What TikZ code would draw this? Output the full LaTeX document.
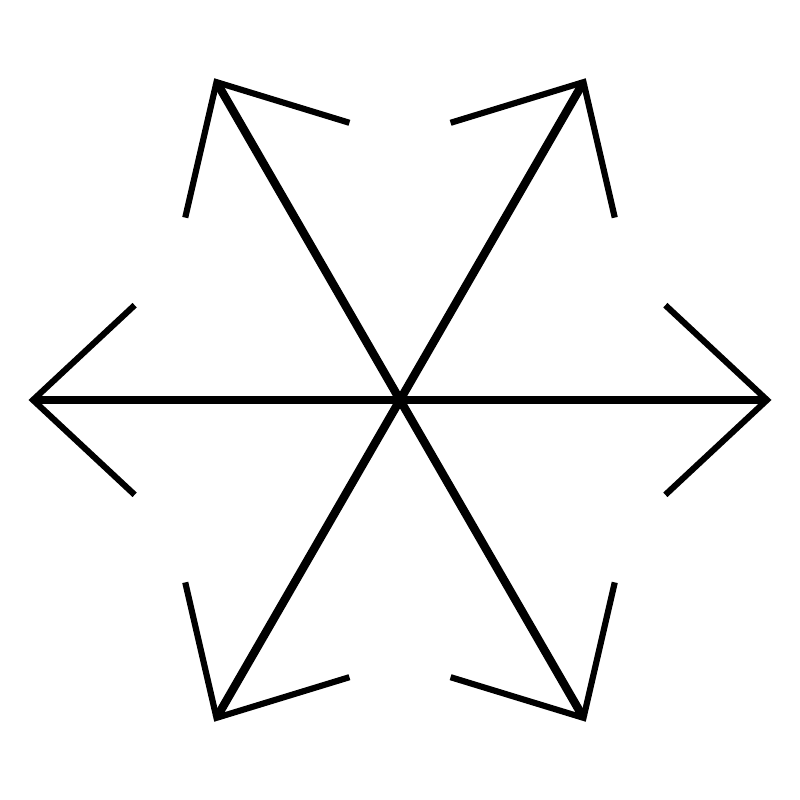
\documentclass[tikz,border=0pt]{standalone}
\usetikzlibrary{calc}
\begin{document}
\begin{tikzpicture}[
  shaft/.style={line width=2.4pt},
  barb/.style={line width=1.75pt, line join=miter}]
\useasboundingbox (-4,-4) rectangle (4,4);
\coordinate (c) at (0,0);
\foreach \a in {0,60,120,180,240,300}{
  \coordinate (t\a) at (\a:3.67);
  \draw[shaft] (c) -- (t\a);
  \draw[barb] ($(t\a)+(\a+180-43:1.39)$) -- (t\a) -- ($(t\a)+(\a+180+43:1.39)$);
}
\end{tikzpicture}
\end{document}
